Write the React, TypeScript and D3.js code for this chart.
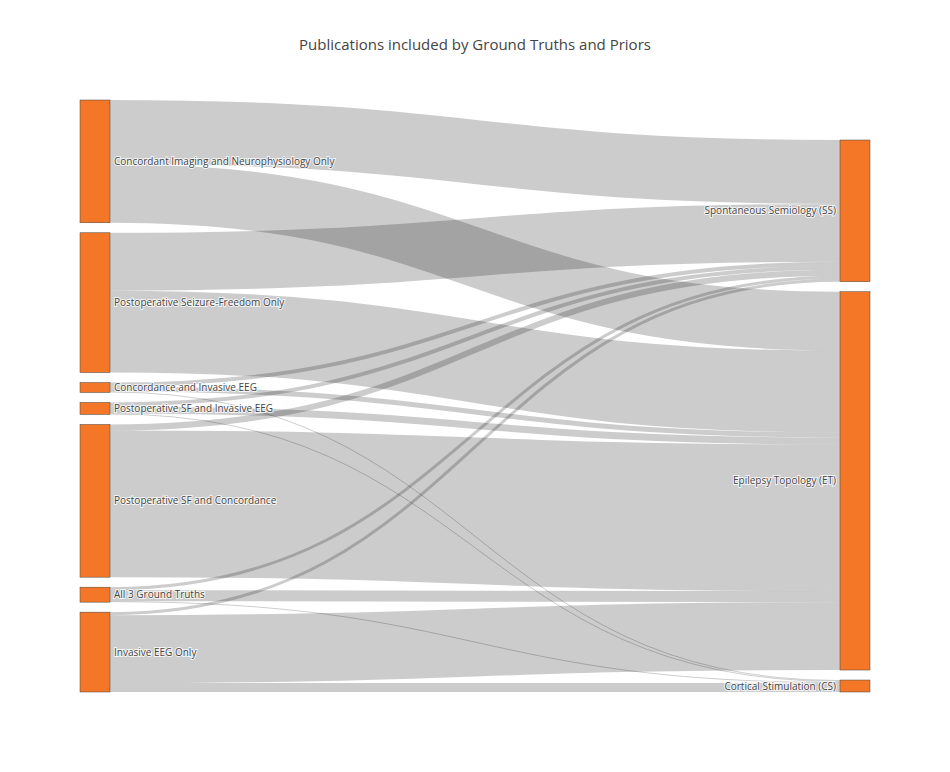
import React from 'react'
import * as d3 from 'd3'

const sources = [
    'Concordant Imaging and Neurophysiology Only',
    'Postoperative Seizure-Freedom Only',
    'Concordance and Invasive EEG',
    'Postoperative SF and Invasive EEG',
    'Postoperative SF and Concordance',
    'All 3 Ground Truths',
    'Invasive EEG Only',
]
const targets = ['Spontaneous Semiology (SS)', 'Epilepsy Topology (ET)', 'Cortical Stimulation (CS)']

// rows: source, columns: SS, ET, CS
const toSS = [64, 58, 4, 4, 6, 3, 3]
const toET = [59, 82, 5, 7, 147, 11, 68]
const toCS = [0, 0, 1, 1, 0, 1, 9]

const W = 950
const H = 772
const left = 80
const right = 870
const top = 100
const bottom = 692
const nodeW = 30
const pad = 10

const App: React.FC = () => {
    const matrix = sources.map((_, i) => [toSS[i], toET[i], toCS[i]])
    const srcVals = matrix.map((r) => d3.sum(r))
    const tgtVals = targets.map((_, j) => d3.sum(matrix, (r) => r[j]))
    const maxSum = Math.max(d3.sum(srcVals), d3.sum(tgtVals))
    const k = d3
        .scaleLinear()
        .domain([0, maxSum])
        .range([0, bottom - top - pad * (sources.length - 1)])

    // source column from top
    let y = top
    const srcY = srcVals.map((v) => {
        const y0 = y
        y += k(v) + pad
        return y0
    })
    // target column aligned to bottom
    y = bottom - d3.sum(tgtVals, (v) => k(v)) - pad * (targets.length - 1)
    const tgtY = tgtVals.map((v) => {
        const y0 = y
        y += k(v) + pad
        return y0
    })

    const links: { s: number; t: number; v: number; y0: number; y1: number }[] = []
    const tgtOff = tgtY.slice()
    const srcOff = srcY.slice()
    // target side order: by source order; source side order: by target order
    const srcPos: number[][] = matrix.map((r) =>
        r.map((v) => {
            return 0
        })
    )
    matrix.forEach((r, i) =>
        r.forEach((v, j) => {
            srcPos[i][j] = srcOff[i] + k(v) / 2
            srcOff[i] += k(v)
        })
    )
    matrix.forEach((r, i) =>
        r.forEach((v, j) => {
            if (v <= 0) return
            links.push({ s: i, t: j, v, y0: srcPos[i][j], y1: tgtOff[j] + k(v) / 2 })
            tgtOff[j] += k(v)
        })
    )

    const x0 = left + nodeW
    const x1 = right - nodeW
    const xi = d3.interpolateNumber(x0, x1)
    const path = (l: { y0: number; y1: number }) =>
        `M${x0},${l.y0}C${xi(0.5)},${l.y0} ${xi(0.5)},${l.y1} ${x1},${l.y1}`

    const labelStyle: React.CSSProperties = {
        fontFamily: '"Open Sans", sans-serif',
        fontSize: 10,
        fill: '#444',
        paintOrder: 'stroke',
        stroke: '#fff',
        strokeWidth: 2,
        strokeOpacity: 0.8,
    }

    return (
        <svg width={W} height={H} style={{ position: 'absolute', left: 0, top: 0 }}>
            <rect width={W} height={H} fill="#fff" />
            <text
                x={W / 2}
                y={50}
                textAnchor="middle"
                style={{ fontFamily: '"Open Sans", sans-serif', fontSize: 15, fill: '#444' }}
            >
                Publications included by Ground Truths and Priors
            </text>
            <g fill="none">
                {links.map((l, i) => (
                    <path key={i} d={path(l)} stroke="rgba(0,0,0,0.2)" strokeWidth={Math.max(k(l.v), 0.5)} />
                ))}
            </g>
            {sources.map((name, i) => (
                <g key={name}>
                    <rect
                        x={left}
                        y={srcY[i]}
                        width={nodeW}
                        height={k(srcVals[i])}
                        fill="#f37726"
                        stroke="#444"
                        strokeWidth={0.5}
                    />
                    <text x={left + nodeW + 4} y={srcY[i] + k(srcVals[i]) / 2} dy="0.35em" style={labelStyle}>
                        {name}
                    </text>
                </g>
            ))}
            {targets.map((name, j) => (
                <g key={name}>
                    <rect
                        x={right - nodeW}
                        y={tgtY[j]}
                        width={nodeW}
                        height={k(tgtVals[j])}
                        fill="#f37726"
                        stroke="#444"
                        strokeWidth={0.5}
                    />
                    <text
                        x={right - nodeW - 4}
                        y={tgtY[j] + k(tgtVals[j]) / 2}
                        dy="0.35em"
                        textAnchor="end"
                        style={labelStyle}
                    >
                        {name}
                    </text>
                </g>
            ))}
        </svg>
    )
}

export default App
